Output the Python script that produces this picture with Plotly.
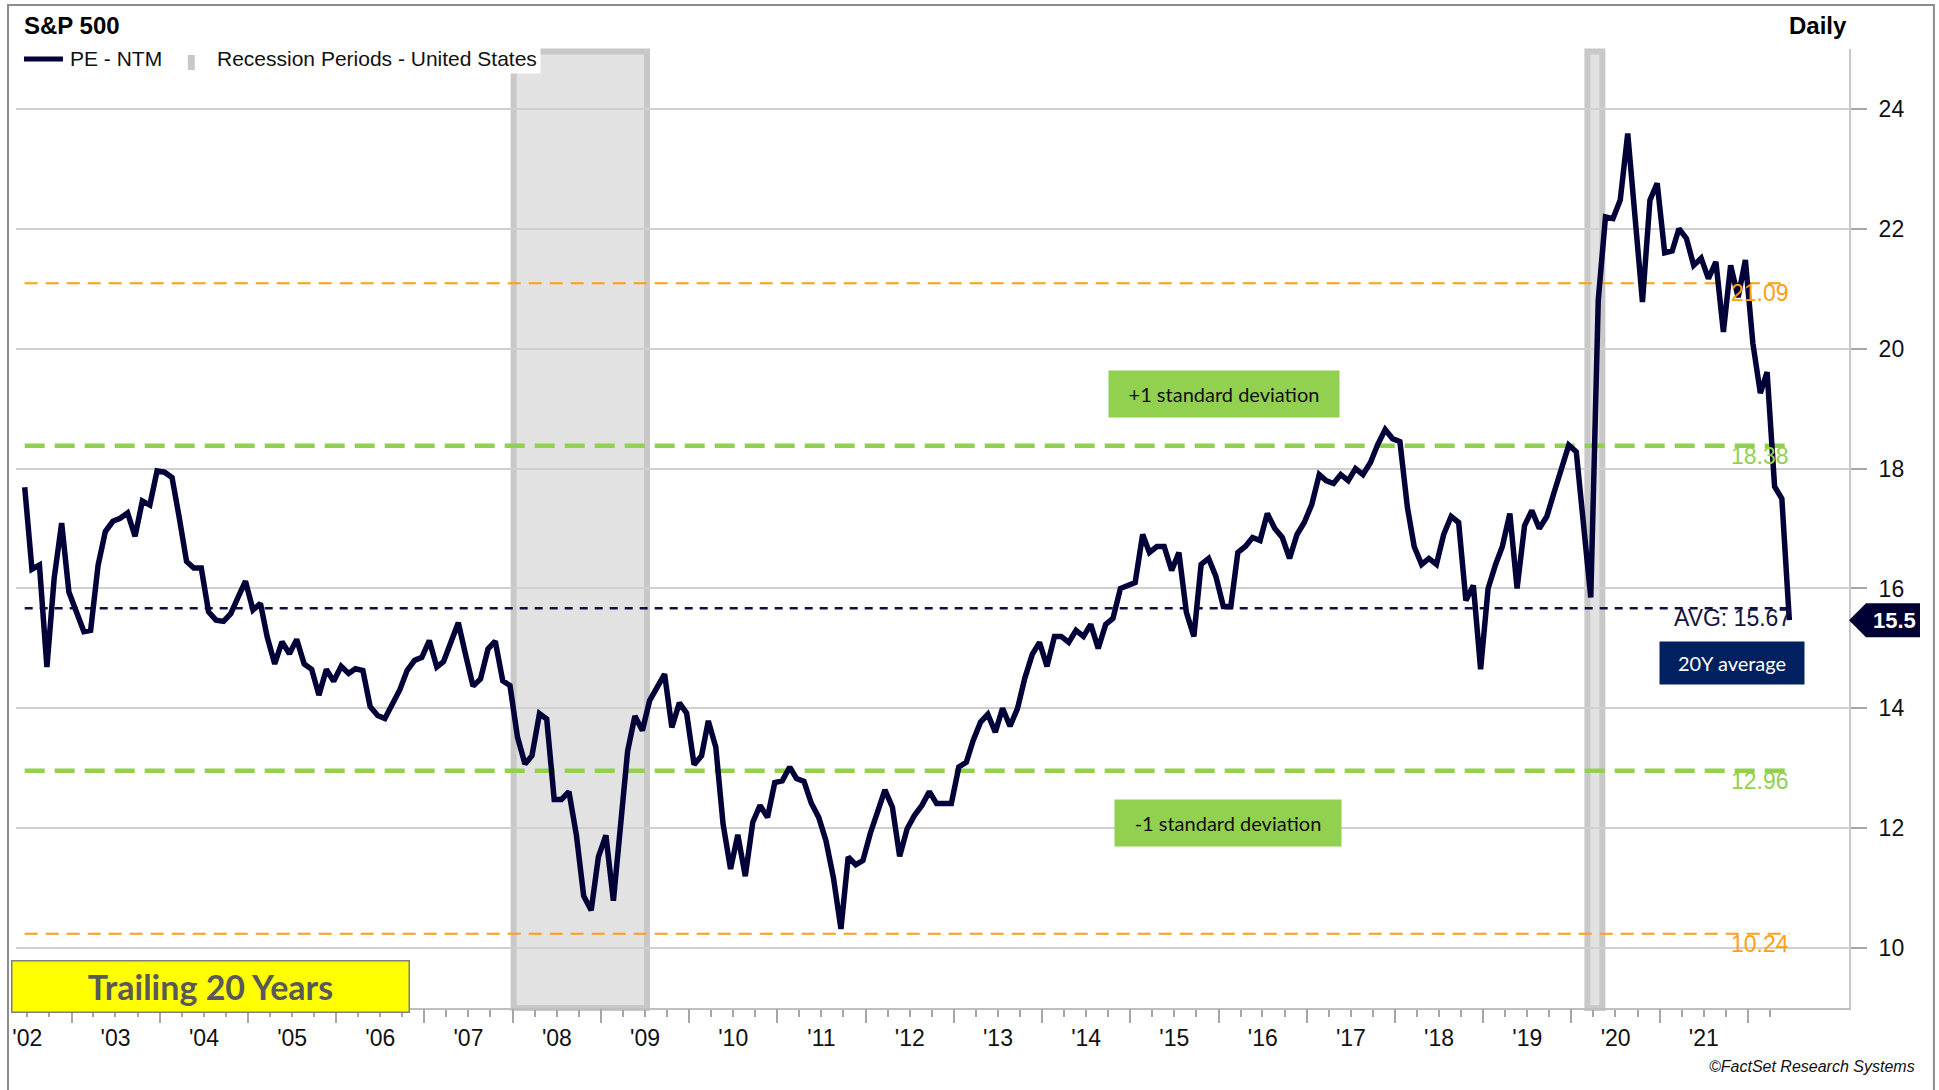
import pandas as pd
import plotly.graph_objects as go

# ---------------- data ----------------
start_month = "2002-06-01"
pe_ntm = [
    17.69, 16.32, 16.39, 14.69, 16.17, 17.09, 15.94, 15.60, 15.28, 15.30,
    16.39, 16.95, 17.12, 17.17, 17.26, 16.87, 17.46, 17.39, 17.96, 17.94,
    17.85, 17.20, 16.45, 16.34, 16.34, 15.61, 15.47, 15.45, 15.58, 15.86,
    16.12, 15.64, 15.75, 15.19, 14.74, 15.11, 14.91, 15.15, 14.74, 14.65,
    14.22, 14.65, 14.45, 14.70, 14.58, 14.66, 14.63, 14.03, 13.88, 13.83,
    14.06, 14.31, 14.63, 14.80, 14.85, 15.13, 14.69, 14.78, 15.11, 15.43,
    14.88, 14.37, 14.49, 14.99, 15.12, 14.46, 14.38, 13.52, 13.07, 13.21,
    13.91, 13.82, 12.48, 12.48, 12.61, 11.88, 10.87, 10.63, 11.52, 11.88,
    10.79, 11.96, 13.29, 13.87, 13.63, 14.13, 14.33, 14.57, 13.68, 14.09,
    13.92, 13.06, 13.21, 13.79, 13.35, 12.07, 11.32, 11.89, 11.20, 12.10,
    12.38, 12.18, 12.76, 12.79, 13.02, 12.83, 12.78, 12.42, 12.18, 11.79,
    11.17, 10.32, 11.52, 11.39, 11.46, 11.92, 12.29, 12.64, 12.35, 11.53,
    11.99, 12.21, 12.38, 12.61, 12.41, 12.41, 12.41, 13.02, 13.10, 13.46,
    13.77, 13.90, 13.60, 14.00, 13.70, 14.00, 14.50, 14.90, 15.10, 14.70,
    15.20, 15.20, 15.10, 15.30, 15.20, 15.40, 15.00, 15.40, 15.50, 16.00,
    16.05, 16.10, 16.90, 16.60, 16.70, 16.70, 16.30, 16.60, 15.60, 15.20,
    16.40, 16.50, 16.20, 15.70, 15.70, 16.60, 16.70, 16.85, 16.80, 17.25,
    17.00, 16.85, 16.50, 16.90, 17.10, 17.40, 17.90, 17.80, 17.75, 17.90,
    17.80, 18.00, 17.90, 18.10, 18.40, 18.65, 18.50, 18.45, 17.35, 16.70,
    16.40, 16.50, 16.40, 16.90, 17.20, 17.10, 15.80, 16.05, 14.65, 16.00,
    16.40, 16.70, 17.25, 16.00, 17.05, 17.30, 17.00, 17.20, 17.60, 18.00,
    18.39, 18.28, 17.00, 15.85, 20.81, 22.20, 22.17, 22.48, 23.59, 22.20,
    20.78, 22.48, 22.76, 21.60, 21.63, 22.00, 21.84, 21.39, 21.51, 21.17,
    21.45, 20.28, 21.39, 20.86, 21.48, 20.09, 19.26, 19.61, 17.70, 17.50,
    15.47,
]
dates = pd.date_range(start_month, periods=len(pe_ntm), freq="MS") + pd.Timedelta(days=20)

avg_20y = 15.67
sd_plus1 = 18.38
sd_minus1 = 12.96
sd_plus2 = 21.09
sd_minus2 = 10.24

recession_start = ["2008-01-05", "2020-03-07"]
recession_end = ["2009-07-10", "2020-05-08"]

label_years = list(range(2002, 2022))
year_labels = ["'02", "'03", "'04", "'05", "'06", "'07", "'08", "'09", "'10", "'11",
               "'12", "'13", "'14", "'15", "'16", "'17", "'18", "'19", "'20", "'21"]
y_ticks = [10, 12, 14, 16, 18, 20, 22, 24]
x_range = ["2002-05-16", "2023-02-23"]

# ---------------- geometry helpers ----------------
W, H = 1939, 1090
L, R, T, B = 14, 1849, 49, 1008


def px(x):
    return (x - L) / (R - L)


def py(y):
    return (B - y) / (B - T)


NAVY = "#020238"
GREEN = "#92d050"
ORANGE = "#ffa010"
FONT = "Liberation Sans, Arial, sans-serif"
CAL = "Lato, Carlito, Calibri, sans-serif"

fig = go.Figure()

# reference lines
for val, color, width, dash in [
    (sd_plus2, ORANGE, 2, "13px,8px"),
    (sd_minus2, ORANGE, 2, "13px,8px"),
    (sd_plus1, GREEN, 4.5, "20px,10px"),
    (sd_minus1, GREEN, 4.5, "20px,10px"),
    (avg_20y, "#101040", 2.5, "8px,7px"),
]:
    fig.add_trace(go.Scatter(x=[dates[0], dates[-1]], y=[val, val], mode="lines",
                             line=dict(color=color, width=width, dash=dash),
                             hoverinfo="skip", showlegend=False))

fig.add_trace(go.Scatter(x=dates, y=pe_ntm, mode="lines", name="PE - NTM",
                         line=dict(color=NAVY, width=5.5), showlegend=False))

# dummy trace for the overlay axis carrying year-boundary ticks
fig.add_trace(go.Scatter(x=[dates[0]], y=[pe_ntm[0]], xaxis="x2", mode="markers",
                         marker=dict(opacity=0), hoverinfo="skip", showlegend=False))

shapes = []
for s, e in zip(recession_start, recession_end):
    shapes.append(dict(type="rect", xref="x", yref="paper", x0=s, x1=e, y0=0, y1=1 - 2.5 / (B - T),
                       fillcolor="#e2e2e2", line=dict(color="#c8c8c8", width=6), layer="below"))

# legend symbols
shapes.append(dict(type="line", xref="paper", yref="paper", x0=px(22), x1=px(61), y0=py(59), y1=py(59),
                   line=dict(color=NAVY, width=5)))
shapes.append(dict(type="rect", xref="paper", yref="paper", x0=px(186), x1=px(193), y0=py(70), y1=py(55),
                   fillcolor="#c8c8c8", line=dict(width=0)))
# outer frame
shapes.append(dict(type="rect", xref="paper", yref="paper", x0=px(6), x1=px(1934), y0=py(1096), y1=py(5),
                   line=dict(color="#8c8c8c", width=2), fillcolor="rgba(0,0,0,0)"))
# last value tag
shapes.append(dict(type="path", xref="paper", yref="y", xsizemode="pixel", ysizemode="pixel",
                   xanchor=1, yanchor=pe_ntm[-1],
                   path="M 0 0 L 17 17 L 71 17 L 71 -17 L 17 -17 Z",
                   fillcolor="#000033", line=dict(width=0)))

ann = []
ann.append(dict(text="<b>S&P 500</b>", xref="paper", yref="paper", x=px(20), y=py(26),
                xanchor="left", yanchor="middle", showarrow=False, font=dict(size=24, color="#000", family=FONT)))
ann.append(dict(text="<b>Daily</b>", xref="paper", yref="paper", x=px(1849), y=py(26),
                xanchor="right", yanchor="middle", showarrow=False, font=dict(size=24, color="#000", family=FONT)))
ann.append(dict(text="PE - NTM", xref="paper", yref="paper", x=px(66), y=py(59),
                xanchor="left", yanchor="middle", showarrow=False, font=dict(size=21, color="#111", family=FONT)))
ann.append(dict(text="Recession Periods - United States", xref="paper", yref="paper", x=px(211), y=py(59),
                xanchor="left", yanchor="middle", showarrow=False, bgcolor="white", borderpad=3,
                font=dict(size=21, color="#111", family=FONT)))

# value labels of reference lines
for val, color in [(sd_plus2, ORANGE), (sd_minus2, ORANGE), (sd_plus1, GREEN), (sd_minus1, GREEN)]:
    ann.append(dict(text=f"{val:.2f}", xref="x", yref="y", x=dates[-1], y=val, xanchor="right",
                    yanchor="middle", yshift=-10, xshift=2, showarrow=False,
                    font=dict(size=23, color=color, family=FONT)))
ann.append(dict(text=f"AVG: {avg_20y:.2f}", xref="x", yref="y", x=dates[-1], y=avg_20y, xanchor="right",
                yanchor="middle", yshift=-10, xshift=4, showarrow=False,
                font=dict(size=23, color="#14143c", family=FONT)))

# boxes
ann.append(dict(text="+1 standard deviation", xref="paper", yref="paper", x=px(1223), y=py(394),
                xanchor="center", yanchor="middle", width=230, height=46, bgcolor=GREEN, borderpad=0,
                showarrow=False, font=dict(size=20, color="#111", family=CAL)))
ann.append(dict(text="-1 standard deviation", xref="paper", yref="paper", x=px(1227), y=py(823),
                xanchor="center", yanchor="middle", width=226, height=46, bgcolor=GREEN, borderpad=0,
                showarrow=False, font=dict(size=20, color="#111", family=CAL)))
ann.append(dict(text="20Y average", xref="paper", yref="paper", x=px(1732), y=py(663),
                xanchor="center", yanchor="middle", width=144, height=42, bgcolor="#002060", borderpad=0,
                showarrow=False, font=dict(size=20, color="white", family=CAL)))
ann.append(dict(text="<b>Trailing 20 Years</b>", xref="paper", yref="paper", x=px(208.5), y=py(986.5),
                xanchor="center", yanchor="middle", width=396, height=50, bgcolor="#ffff00",
                bordercolor="#7f7f7f", borderwidth=1.5, borderpad=0,
                showarrow=False, font=dict(size=34, color="#595959", family=CAL)))
# tag text
ann.append(dict(text=f"<b>{pe_ntm[-1]:.1f}</b>", xref="paper", yref="y", x=1, y=pe_ntm[-1],
                xanchor="center", yanchor="middle", xshift=45, showarrow=False,
                font=dict(size=22, color="white", family=FONT)))
ann.append(dict(text="<i>©FactSet Research Systems</i>", xref="paper", yref="paper", x=px(1917), y=py(1066),
                xanchor="right", yanchor="middle", showarrow=False,
                font=dict(size=16, color="#111", family=FONT)))

quarter_ticks = pd.date_range("2002-07-01", "2022-04-01", freq="QS")
year_ticks = pd.date_range("2003-01-01", "2022-01-01", freq="YS")
label_pos = [f"{y}-07-02" for y in label_years]

fig.update_layout(
    width=W, height=H,
    margin=dict(l=L, r=W - R, t=T, b=H - B, pad=0),
    paper_bgcolor="white", plot_bgcolor="white",
    showlegend=False,
    shapes=shapes, annotations=ann,
    xaxis=dict(type="date", range=x_range, showgrid=False, zeroline=False,
               showline=True, linecolor="#bfbfbf", linewidth=2,
               tickmode="array", tickvals=label_pos, ticktext=year_labels, ticks="",
               ticklabelstandoff=8,
               tickfont=dict(size=23, color="#111", family=FONT),
               minor=dict(ticks="outside", tickmode="array", tickvals=quarter_ticks, ticklen=7,
                          tickcolor="#a6a6a6", tickwidth=1.5, showgrid=False)),
    xaxis2=dict(type="date", range=x_range, overlaying="x", anchor="y", side="bottom",
                showgrid=False, zeroline=False, showline=False, showticklabels=False,
                tickmode="array", tickvals=year_ticks, ticks="outside", ticklen=14,
                tickcolor="#a6a6a6", tickwidth=1.5),
    yaxis=dict(range=[9, 25], side="right", tickmode="array", tickvals=y_ticks,
               ticks="outside", ticklen=16, tickcolor="#a6a6a6", tickwidth=1.5,
               showline=True, linecolor="#c8c8c8", linewidth=2,
               showgrid=True, gridcolor="#d0d0d0", gridwidth=1.5, zeroline=False,
               ticklabelstandoff=7,
               tickfont=dict(size=23, color="#111", family=FONT)),
)

fig.write_html("out.html", config={"displayModeBar": False},
               post_script="document.body.style.margin='0';document.body.style.overflow='hidden';")
